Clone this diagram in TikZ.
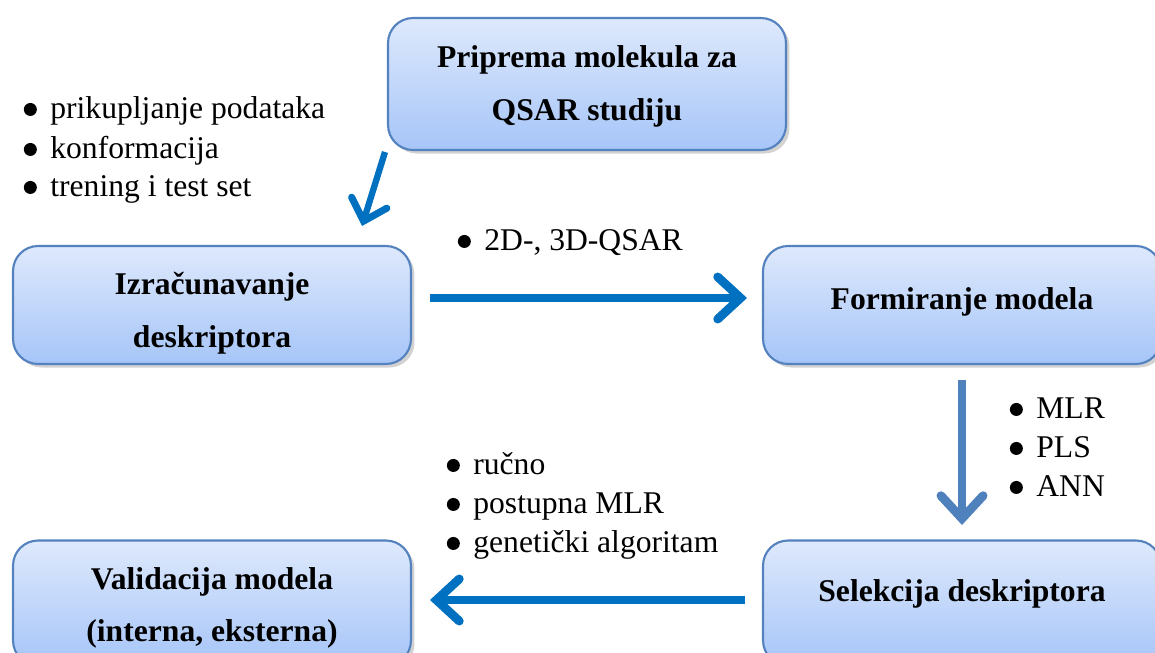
\documentclass[tikz,border=0pt]{standalone}
\usepackage{fontspec}
\setmainfont{Liberation Serif}
\usetikzlibrary{arrows.meta,shadows}
\definecolor{boxtop}{RGB}{222,233,252}
\definecolor{boxbot}{RGB}{166,197,248}
\definecolor{boxline}{RGB}{84,130,190}
\definecolor{darrow}{RGB}{0,112,192}
\definecolor{sarrow}{RGB}{79,129,189}
\tikzset{
  stepbox/.style={draw=boxline, line width=1.2pt, rounded corners=0.5cm,
    top color=boxtop, bottom color=boxbot,
    drop shadow={opacity=0.35, shadow xshift=2pt, shadow yshift=-2pt},
    inner sep=0pt},
  boxtext/.style={align=center, font=\fontsize{18}{30}\selectfont\bfseries, inner sep=0pt},
  item/.style={anchor=base west, inner sep=0pt, text height=12pt, text depth=3.5pt,
    font=\fontsize{18}{22}\selectfont},
  bigarrow/.style={draw=#1, line width=4.4pt,
    -{Straight Barb[length=13pt,width=24pt,line width=5pt,line cap=round,line join=miter]}},
}
\newcommand{\bul}{\makebox[0.54cm][l]{\tikz[baseline=0pt,x=1cm,y=1cm]{\path (0,0); \fill (0.14cm,0.27em) circle [radius=0.13cm];}}}
\begin{document}
\begin{tikzpicture}[x=0.02cm,y=-0.02cm]
\useasboundingbox (0,0) rectangle (1155,652);
\fill[white] (0,0) rectangle (1155,652);
% boxes
\node[stepbox, minimum width=7.96cm, minimum height=2.64cm] (prep) at (587,84) {};
\node[stepbox, minimum width=7.96cm, minimum height=2.36cm] (izr) at (212,305) {};
\node[stepbox, minimum width=7.96cm, minimum height=2.36cm] (form) at (962,305) {};
\node[stepbox, minimum width=7.96cm, minimum height=2.5cm] (sel) at (962,603) {};
\node[stepbox, minimum width=7.96cm, minimum height=2.5cm] (val) at (212,603) {};
% box texts
\node[boxtext] (prept) at ([yshift=-0.05cm]prep.center) {Priprema molekula za\\QSAR studiju};
\node[boxtext] (izrt) at ([yshift=-0.16cm]izr.center) {Izračunavanje\\deskriptora};
\node[boxtext] (formt) at ([yshift=0.06cm]form.center) {Formiranje modela};
\node[boxtext] (selt) at ([yshift=0.18cm]sel.center) {Selekcija deskriptora};
\node[boxtext] (valt) at ([yshift=-0.1cm]val.center) {Validacija modela\\(interna, eksterna)};
% arrow endpoints
\coordinate (a1s) at (385,152); \coordinate (a1e) at (362,226);
\coordinate (a2s) at (430,298); \coordinate (a2e) at (747,298);
\coordinate (a3s) at (962,380); \coordinate (a3e) at (962,525);
\coordinate (a4s) at (745,600); \coordinate (a4e) at (430,600);
\draw[bigarrow=darrow, line width=3.6pt, -{Straight Barb[length=11pt,width=21pt,line width=4pt,line cap=round,line join=miter]}] (a1s) -- (a1e);
\draw[bigarrow=darrow] (a2s) -- (a2e);
\draw[bigarrow=sarrow] (a3s) -- (a3e);
\draw[bigarrow=darrow] (a4s) -- (a4e);
% bullet lists
\node[item] (p1) at (23,118) {\bul prikupljanje podataka};
\node[item] (p2) at (23,158) {\bul konformacija};
\node[item] (p3) at (23,196) {\bul trening i test set};
\node[item] (q1) at (457,250) {\bul 2D-, 3D-QSAR};
\node[item] (m1) at (1009,418) {\bul MLR};
\node[item] (m2) at (1009,457) {\bul PLS};
\node[item] (m3) at (1009,496) {\bul ANN};
\node[item] (r1) at (446,474) {\bul ručno};
\node[item] (r2) at (446,513) {\bul postupna MLR};
\node[item] (r3) at (446,552) {\bul genetički algoritam};
\end{tikzpicture}
\end{document}
